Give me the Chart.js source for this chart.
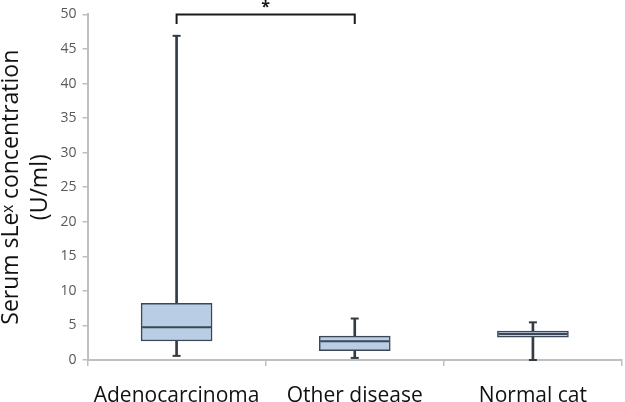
<!DOCTYPE html>
<html>
<head>
<meta charset="utf-8">
<script src="https://cdn.jsdelivr.net/npm/chart.js@4.4.1/dist/chart.umd.min.js"></script>
<style>
  html, body { margin: 0; padding: 0; background: #fff; }
  #wrap { width: 625px; height: 402px; }
</style>
</head>
<body>
<div id="wrap"><canvas id="chart"></canvas></div>
<script>
// ── Data ────────────────────────────────────────────────────────────
const groups     = ['Adenocarcinoma', 'Other disease', 'Normal cat'];
const minVals    = [0.6, 0.3, 0];
const q1Vals     = [2.75, 1.35, 3.3];
const medianVals = [4.75, 2.7, 3.75];
const q3Vals     = [8.2, 3.45, 4.2];
const maxVals    = [46.9, 6.0, 5.45];
const yTicks     = [0, 5, 10, 15, 20, 25, 30, 35, 40, 45, 50];

// significance bracket between group 0 and group 1
const bracketPair  = [0, 1];
const bracketLevel = 50;
const bracketDrop  = 1.4;
const bracketMark  = '*';

// ── Styles ──────────────────────────────────────────────────────────
const boxFill  = '#b9cde5';
const boxLine  = '#3b4756';
const whisker  = '#333b44';
const axisGrey = '#bfbfbf';
const font     = "'Open Sans', 'Liberation Sans', sans-serif";

const bracketPlugin = {
  id: 'bracket',
  afterDatasetsDraw(chart) {
    const { ctx, scales: { x, y } } = chart;
    const x1 = x.getPixelForValue(bracketPair[0]);
    const x2 = x.getPixelForValue(bracketPair[1]);
    const yt = y.getPixelForValue(bracketLevel);
    const yb = y.getPixelForValue(bracketLevel - bracketDrop);
    ctx.save();
    ctx.strokeStyle = '#1a1a1a';
    ctx.lineWidth = 2;
    ctx.beginPath();
    ctx.moveTo(x1, yb);
    ctx.lineTo(x1, yt);
    ctx.lineTo(x2, yt);
    ctx.lineTo(x2, yb);
    ctx.stroke();
    ctx.fillStyle = '#1a1a1a';
    ctx.font = `bold 16px ${font}`;
    ctx.textAlign = 'center';
    ctx.textBaseline = 'middle';
    ctx.fillText(bracketMark, (x1 + x2) / 2, yt - 7);
    ctx.restore();
  }
};

const capStyle = {
  type: 'line', showLine: false, pointStyle: 'line',
  pointRadius: 4, pointHoverRadius: 4,
  pointBorderColor: whisker, pointBorderWidth: 2,
  clip: false, order: 0
};

new Chart(document.getElementById('chart'), {
  type: 'bar',
  data: {
    labels: groups,
    datasets: [
      {
        label: 'IQR',
        data: groups.map((g, i) => [q1Vals[i], q3Vals[i]]),
        backgroundColor: boxFill, borderColor: boxLine, borderWidth: 1.5,
        borderSkipped: false, barThickness: 71, grouped: false, order: 1
      },
      {
        label: 'lower whisker',
        data: groups.map((g, i) => [minVals[i], q1Vals[i]]),
        backgroundColor: whisker, barThickness: 2, grouped: false, order: 2
      },
      {
        label: 'upper whisker',
        data: groups.map((g, i) => [q3Vals[i], maxVals[i]]),
        backgroundColor: whisker, barThickness: 2, grouped: false, order: 2
      },
      {
        ...capStyle, label: 'median', data: medianVals,
        pointRadius: 34.5, pointHoverRadius: 34.5, pointBorderColor: boxLine
      },
      { ...capStyle, label: 'max', data: maxVals },
      { ...capStyle, label: 'min', data: minVals }
    ]
  },
  options: {
    responsive: true,
    maintainAspectRatio: false,
    animation: false,
    layout: { autoPadding: false, padding: { top: 14, right: 3, left: -3, bottom: 0 } },
    plugins: {
      legend: { display: false },
      tooltip: { enabled: false }
    },
    scales: {
      x: {
        offset: true,
        afterFit: s => { s.height = 42; },
        grid: { offset: true, drawOnChartArea: false, drawTicks: true, tickLength: 6, color: axisGrey, lineWidth: 1.5 },
        border: { color: axisGrey, width: 2 },
        ticks: { color: '#111', font: { family: font, size: 21 }, padding: 17, maxRotation: 0 }
      },
      y: {
        min: 0, max: 50,
        afterBuildTicks: s => { s.ticks = yTicks.map(v => ({ value: v })); },
        grid: { drawOnChartArea: false, drawTicks: true, tickLength: 5, color: axisGrey, lineWidth: 1.5 },
        border: { color: axisGrey, width: 2 },
        ticks: { color: '#595959', font: { family: font, size: 14 }, padding: 6 },
        title: {
          display: true,
          text: ['Serum sLeˣ concentration', '(U/ml)'],
          color: '#111',
          font: { family: font, size: 23, lineHeight: 1.25 },
          padding: { top: 0, bottom: 0 }
        }
      }
    }
  },
  plugins: [bracketPlugin]
});
</script>
</body>
</html>
